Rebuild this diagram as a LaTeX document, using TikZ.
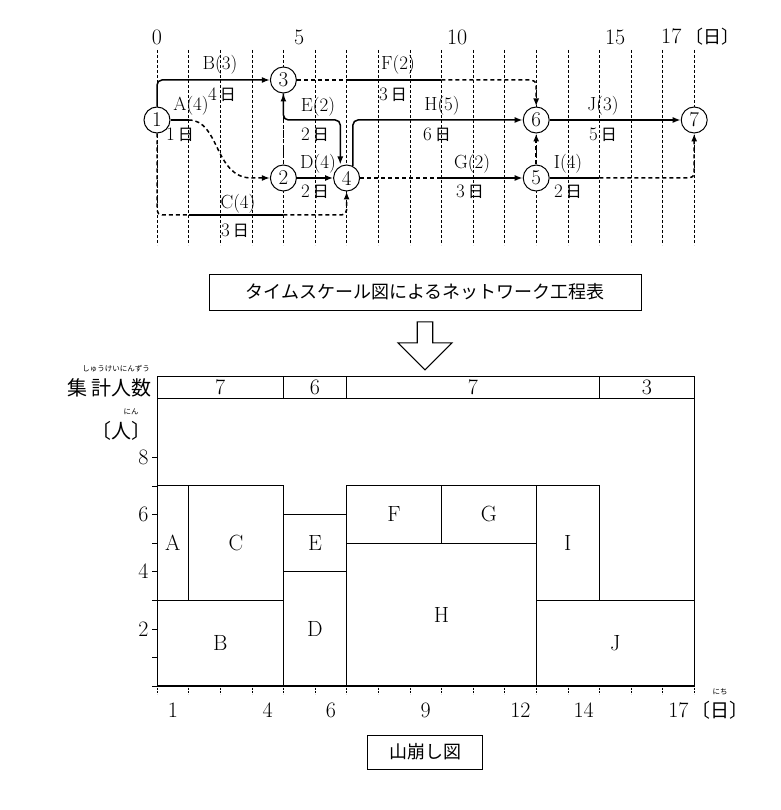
\documentclass[tikz,border=0pt]{standalone}
\usepackage{fontspec}
\newfontfamily\jp{Noto Sans CJK JP}
\usetikzlibrary{arrows.meta,shapes.arrows}
\begin{document}
\begin{tikzpicture}[x=1pt,y=-1pt,
  grid/.style={densely dashed,line width=0.6pt},
  act/.style={line width=1.5pt,rounded corners=5pt},
  dum/.style={line width=1.5pt,dash pattern=on 4pt off 3pt,rounded corners=5pt},
  arr/.style={-{Latex[length=8pt,width=6pt]}},
  ev/.style={circle,draw,line width=1pt,fill=white,minimum size=26pt,inner sep=0pt,font=\fontsize{21}{21}\selectfont},
  lab/.style={font=\fontsize{19}{19}\selectfont,inner sep=1pt},
  blk/.style={draw,line width=0.8pt},
  num/.style={font=\fontsize{22}{22}\selectfont},
  ruby/.style={font=\jp\fontsize{7.5}{7.5}\selectfont,inner sep=0pt}]
\useasboundingbox (0,0) rectangle (780,810);
\def\D#1{157+31.6*#1}
% grid top
\foreach \d in {0,...,17}{\draw[grid] ({\D{\d}},50) -- ({\D{\d}},245);}
\foreach \d/\t in {0/0,4.5/5,9.5/10,14.5/15}{\node[num] at ({\D{\d}},37) {\t};}
\node[font=\fontsize{22}{22}\selectfont,anchor=west,inner sep=0pt] (d17) at ({\D{15.95}},37) {17\,{\jp\fontsize{18}{18}\selectfont〔日〕}};
% events
\node[ev] (n1) at ({\D{0}},120) {1};
\node[ev] (n3) at ({\D{4}},80) {3};
\node[ev] (n2) at ({\D{4}},178) {2};
\node[ev] (n4) at ({\D{6}},178) {4};
\node[ev] (n6) at ({\D{12}},120) {6};
\node[ev] (n5) at ({\D{12}},178) {5};
\node[ev] (n7) at ({\D{17}},120) {7};
\coordinate (a1) at ({\D{1}},120);
\coordinate (c1) at ({\D{1}},215);
\coordinate (c4) at ({\D{4}},215);
\coordinate (f6) at ({\D{6}},80);
\coordinate (f9) at ({\D{9}},80);
\coordinate (g9) at ({\D{9}},178);
\coordinate (i14) at ({\D{14}},178);
\draw[act,arr] (n1.north) |- (n3.west);
\draw[act] (n1.east) -- (a1);
\draw[dum,arr,rounded corners=0pt] (a1) .. controls ({\D{2}},120) and ({\D{1.8}},178) .. ({\D{3}},178) -- (n2.west);
\draw[dum] (n1.south) |- (c1);
\draw[act] (c1) -- (c4);
\draw[dum,arr] (c4) -| (n4.south);
\draw[dum,arr] (n2.north) -- (n3.south);
\draw[act,arr] (n2.east) -- (n4.west);
\draw[act,arr] (n3.south) |- ({\D{5.8}},120) -- (n4.north -| {\D{5.8}},0) ;
\draw[dum] (n3.east) -- (f6);
\draw[act] (f6) -- (f9);
\draw[dum,arr] (f9) -| (n6.north);
\draw[act,arr] ({\D{6.2}},166) |- (n6.west);
\draw[dum] (n4.east) -- (g9);
\draw[act,arr] (g9) -- (n5.west);
\draw[dum,arr] (n5.north) -- (n6.south);
\draw[act,arr] (n6.east) -- (n7.west);
\draw[act] (n5.east) -- (i14);
\draw[dum,arr] (i14) -| (n7.south);
% labels
\newcommand\nichi[1]{#1\,{\jp\fontsize{16}{16}\selectfont 日}}
\node[lab] (lB) at (220,65) {B(3)}; \node[lab] (lB2) at (222,95) {\nichi{4}};
\node[lab] (lA) at (191,106) {A(4)}; \node[lab] (lA2) at (180,135) {\nichi{1}};
\node[lab] (lC) at (238,204) {C(4)}; \node[lab] (lC2) at (235,231) {\nichi{3}};
\node[lab] (lD) at (318,164) {D(4)}; \node[lab] (lD2) at (315,192) {\nichi{2}};
\node[lab] (lE) at (318,107) {E(2)}; \node[lab] (lE2) at (315,135) {\nichi{2}};
\node[lab] (lF) at (398,65) {F(2)}; \node[lab] (lF2) at (393,95) {\nichi{3}};
\node[lab] (lH) at (442,106) {H(5)}; \node[lab] (lH2) at (437,135) {\nichi{6}};
\node[lab] (lG) at (472,164) {G(2)}; \node[lab] (lG2) at (470,192) {\nichi{3}};
\node[lab] (lJ) at (603,106) {J(3)}; \node[lab] (lJ2) at (603,135) {\nichi{5}};
\node[lab] (lI) at (568,164) {I(4)}; \node[lab] (lI2) at (568,192) {\nichi{2}};
% title box
\node[draw,line width=0.9pt,font=\jp\fontsize{18}{18}\selectfont,minimum height=36pt,minimum width=432pt] (t1) at (425,292) {タイムスケール図によるネットワーク工程表};
\node[single arrow,draw,line width=1.2pt,shape border rotate=270,minimum width=54pt,single arrow head extend=9pt,single arrow tip angle=90,minimum height=48pt,inner sep=3pt] (bigarr) at (425,342) {};
% chart
\def\Y#1{686-28.6*#1}
\draw[blk] ({\D{0}},376) rectangle ({\D{17}},398);
\foreach \d in {4,6,14}{\draw[blk] ({\D{\d}},376) -- ({\D{\d}},398);}
\node[num] at ({\D{2}},387) {7};
\node[num] at ({\D{5}},387) {6};
\node[num] at ({\D{10}},387) {7};
\node[num] at ({\D{15.5}},387) {3};
\draw[blk] ({\D{0}},398) rectangle ({\D{17}},{\Y{0}});
\foreach \a/\b/\c/\e in {0/4/0/3, 0/1/3/7, 1/4/3/7, 4/6/0/4, 4/6/4/6, 6/12/0/5, 6/9/5/7, 9/12/5/7, 12/14/3/7, 12/17/0/3}{
  \draw[blk] ({\D{\a}},{\Y{\c}}) rectangle ({\D{\b}},{\Y{\e}});
}
\draw[line width=1.4pt] ({\D{0}},{\Y{0}}) -- ({\D{17}},{\Y{0}});
\node[num] (bA) at ({\D{0.5}},{\Y{5}}) {A};
\node[num] (bC) at ({\D{2.5}},{\Y{5}}) {C};
\node[num] (bB) at ({\D{2}},{\Y{1.5}}) {B};
\node[num] (bD) at ({\D{5}},{\Y{2}}) {D};
\node[num] (bE) at ({\D{5}},{\Y{5}}) {E};
\node[num] (bH) at ({\D{9}},{\Y{2.5}}) {H};
\node[num] (bF) at ({\D{7.5}},{\Y{6}}) {F};
\node[num] (bG) at ({\D{10.5}},{\Y{6}}) {G};
\node[num] (bI) at ({\D{13}},{\Y{5}}) {I};
\node[num] (bJ) at ({\D{14.5}},{\Y{1.5}}) {J};
\foreach \k in {0,...,8}{\draw[line width=0.6pt] ({\D{0}-5},{\Y{\k}}) -- ({\D{0}},{\Y{\k}});}
\foreach \k in {2,4,6,8}{\node[num,anchor=east] at ({\D{0}-5},{\Y{\k}}) {\k};}
\foreach \d in {0,...,17}{\draw[line width=0.6pt,densely dotted] ({\D{\d}},686) -- ({\D{\d}},694);}
\foreach \d/\t in {0.5/1,3.5/4,5.5/6,8.5/9,11.5/12,13.5/14,16.5/17}{\node[num] at ({\D{\d}},710) {\t};}
\node[font=\jp\fontsize{19}{19}\selectfont,inner sep=0pt] (ulab) at (720,710) {〔日〕};
\node[ruby] at (720,692) {にち};
\node[font=\jp\fontsize{20}{20}\selectfont,anchor=east,inner sep=0pt] (shu) at (152,388) {集 計人数};
\node[ruby,anchor=east] at (150,369) {しゅうけいにんずう};
\node[font=\jp\fontsize{20}{20}\selectfont,anchor=east,inner sep=0pt] (nin) at (152,431) {〔人〕};
\node[ruby] at (131,412) {にん};
\node[draw,line width=0.9pt,font=\jp\fontsize{18}{18}\selectfont,minimum height=34pt,minimum width=115pt] (t2) at (425,752) {山崩し図};
\end{tikzpicture}
\end{document}
